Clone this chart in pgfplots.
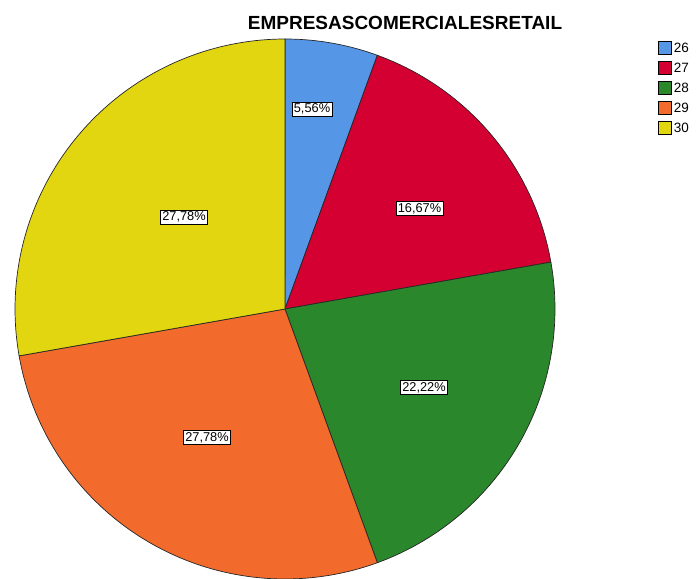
\documentclass[border=0pt]{standalone}
\usepackage{pgfplots}
\pgfplotsset{compat=1.18}
\usepackage{fontspec}
\setmainfont{Liberation Sans}
\definecolor{c26}{HTML}{5596E6}
\definecolor{c27}{HTML}{D50032}
\definecolor{c28}{HTML}{2B872B}
\definecolor{c29}{HTML}{F26A2C}
\definecolor{c30}{HTML}{E1D60F}
% counts per category (total 18): 26:1, 27:3, 28:4, 29:5, 30:5 -> 20 degrees per case
% slice: start angle, end angle (clockwise from 12 o'clock), colour
\newcommand{\pieslice}[3]{%
  \addplot[draw=black!85, line width=0.7pt, fill=#3, domain=#1:#2, samples=80, variable=\t, forget plot]
    ({285+270*sin(t)},{269+270*cos(t)}) -- (axis cs:285,269) -- cycle;
}
\newcommand{\pielabel}[3]{%
  \node[draw=black, line width=0.6pt, fill=white, inner sep=1.8pt, font=\fontsize{12.8}{13}\selectfont] at (axis cs:#1,#2) {#3};
}
\begin{document}
\begin{tikzpicture}
\useasboundingbox (0,0) rectangle (698pt,578pt);
\begin{axis}[
  at={(0,0)}, anchor=south west,
  scale only axis, width=698pt, height=578pt,
  xmin=0, xmax=698, ymin=0, ymax=578,
  hide axis, clip=false,
  legend style={at={(axis cs:658,537)}, anchor=north west, draw=none, fill=none,
    font=\fontsize{13.5}{14}\selectfont, row sep=5pt, inner sep=0pt},
  legend cell align=left,
  legend image code/.code={\draw[#1, draw=black, line width=0.7pt] (0pt,-6pt) rectangle (13pt,7pt);},
]
\pieslice{0}{20}{c26}
\pieslice{20}{80}{c27}
\pieslice{80}{160}{c28}
\pieslice{160}{260}{c29}
\pieslice{260}{360}{c30}
\addlegendimage{fill=c26}\addlegendentry{26}
\addlegendimage{fill=c27}\addlegendentry{27}
\addlegendimage{fill=c28}\addlegendentry{28}
\addlegendimage{fill=c29}\addlegendentry{29}
\addlegendimage{fill=c30}\addlegendentry{30}
\pielabel{312}{469}{5,56\%}
\pielabel{419.5}{369.5}{16,67\%}
\pielabel{424}{190.5}{22,22\%}
\pielabel{207}{140.5}{27,78\%}
\pielabel{184}{361}{27,78\%}
\node[font=\bfseries\fontsize{19}{20}\selectfont] at (axis cs:405,555) {EMPRESASCOMERCIALESRETAIL};
\end{axis}
\end{tikzpicture}
\end{document}
